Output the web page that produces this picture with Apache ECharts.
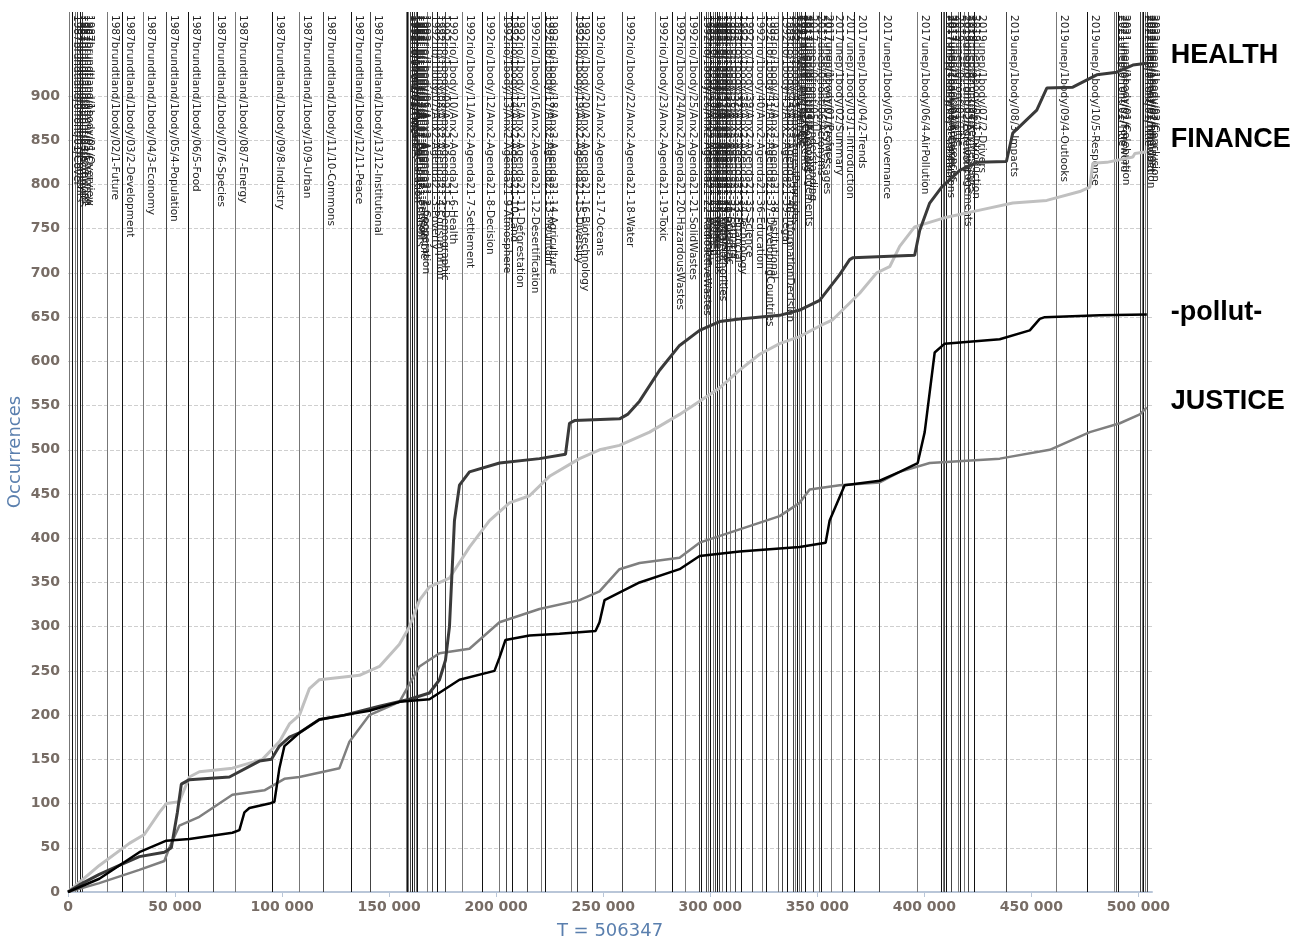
<!DOCTYPE html>
<html>
<head>
<meta charset="utf-8">
<script src="https://cdn.jsdelivr.net/npm/echarts@6/dist/echarts.min.js"></script>
<style>html,body{margin:0;padding:0;background:#fff;}#c{width:1306px;height:939px;}</style>
</head>
<body>
<div id="c"></div>
<script>
// ---- DATA ----
const totalT = 506347;
const yTop = 995;

const docLabels = [
 "1987brundtland/0front/01/Cover","1987brundtland/0front/02/Contents","1987brundtland/0front/03/Acronyms","1987brundtland/0front/04/Foreword","1987brundtland/0front/05/Chairman","1987brundtland/1body/01/Overview",
 "1987brundtland/1body/02/1-Future","1987brundtland/1body/03/2-Development","1987brundtland/1body/04/3-Economy","1987brundtland/1body/05/4-Population","1987brundtland/1body/06/5-Food","1987brundtland/1body/07/6-Species","1987brundtland/1body/08/7-Energy","1987brundtland/1body/09/8-Industry","1987brundtland/1body/10/9-Urban","1987brundtland/1body/11/10-Commons","1987brundtland/1body/12/11-Peace","1987brundtland/1body/13/12-Institutional",
 "1992rio/0front/01/Title","1992rio/0front/02/Contents","1992rio/1body/01/Report","1992rio/1body/02/Anx1-Declaration","1992rio/1body/03/Anx2-Agenda21-Contents","1992rio/1body/04/Anx2-Agenda21-Section","1992rio/1body/05/Anx2-Agenda21-1-Preamble","1992rio/1body/06/Anx2-Agenda21-2-Cooperation",
 "1992rio/1body/07/Anx2-Agenda21-3-Poverty","1992rio/1body/08/Anx2-Agenda21-4-Consumption","1992rio/1body/09/Anx2-Agenda21-5-Demographic","1992rio/1body/10/Anx2-Agenda21-6-Health",
 "1992rio/1body/11/Anx2-Agenda21-7-Settlement","1992rio/1body/12/Anx2-Agenda21-8-Decision","1992rio/1body/13/Anx2-Agenda21-9-Atmosphere","1992rio/1body/14/Anx2-Agenda21-10-Land","1992rio/1body/15/Anx2-Agenda21-11-Deforestation","1992rio/1body/16/Anx2-Agenda21-12-Desertification","1992rio/1body/17/Anx2-Agenda21-13-Mountain","1992rio/1body/18/Anx2-Agenda21-14-Agriculture",
 "1992rio/1body/19/Anx2-Agenda21-15-Diversity","1992rio/1body/20/Anx2-Agenda21-16-Biotechnology","1992rio/1body/21/Anx2-Agenda21-17-Oceans","1992rio/1body/22/Anx2-Agenda21-18-Water","1992rio/1body/23/Anx2-Agenda21-19-Toxic","1992rio/1body/24/Anx2-Agenda21-20-HazardousWastes","1992rio/1body/25/Anx2-Agenda21-21-SolidWastes",
 "1992rio/1body/26/Anx2-Agenda21-22-RadioactiveWastes","1992rio/1body/27/Anx2-Agenda21-23-Preamble","1992rio/1body/28/Anx2-Agenda21-24-Women","1992rio/1body/29/Anx2-Agenda21-25-Youth","1992rio/1body/30/Anx2-Agenda21-26-Indigenous","1992rio/1body/31/Anx2-Agenda21-27-NGO","1992rio/1body/32/Anx2-Agenda21-28-LocalAuthorities","1992rio/1body/33/Anx2-Agenda21-29-Workers","1992rio/1body/34/Anx2-Agenda21-30-Business","1992rio/1body/35/Anx2-Agenda21-31-Scientific","1992rio/1body/36/Anx2-Agenda21-32-Farmers","1992rio/1body/37/Anx2-Agenda21-33-Financial","1992rio/1body/38/Anx2-Agenda21-34-Technology",
 "1992rio/1body/39/Anx2-Agenda21-35-Science","1992rio/1body/40/Anx2-Agenda21-36-Education","1992rio/1body/41/Anx2-Agenda21-37-DevelopingCountries","1992rio/1body/42/Anx2-Agenda21-38-Institutional","1992rio/1body/43/Anx2-Agenda21-39-Legal","1992rio/1body/44/Anx2-Agenda21-40-InformationDecision","1992rio/1body/45/Anx3-ForestPrinciples","1992rio/2back/01/Annex",
 "2017unep/0front/01/Title","2017unep/0front/02/Contents","2017unep/0front/03/Foreword","2017unep/0front/04/Acknowledgements","2017unep/0front/05/Understanding","2017unep/0front/06/Acronyms","2017unep/0front/07/KeyMessages","2017unep/1body/01/Preface",
 "2017unep/1body/02/Summary","2017unep/1body/03/1-Introduction","2017unep/1body/04/2-Trends","2017unep/1body/05/3-Governance","2017unep/1body/06/4-AirPollution",
 "2017unep/1body/07/5-Solutions","2017unep/1body/08/6-Conclusions","2017unep/2back/01/Annexes","2017unep/2back/02/References","2019unep/0front/01/Title","2019unep/0front/02/Foreword","2019unep/0front/03/Acknowledgements","2019unep/0front/04/KeyMessages","2019unep/1body/06/1-Introduction","2019unep/1body/07/2-Drivers",
 "2019unep/1body/08/3-Impacts","2019unep/1body/09/4-Outlooks","2019unep/1body/10/5-Response",
 "2021unep/0front/01/Title","2021unep/0front/02/Foreword","2021unep/1body/01/Celebration",
 "2022unep/0front/01/Title","2022unep/0front/02/Foreword","2022unep/1body/01/Introduction","2022unep/1body/02/Findings","2022unep/1body/03/Conclusion"
];
const docStarts = [
 607,2150,3411,4486,5608,6823,
 18365,25140,35327,45935,56028,67710,78037,95561,108084,119440,132384,141122,
 157805,158413,159020,159955,160889,161824,162618,163366,
 167899,170235,172338,176310,
 184020,193693,201216,204534,207571,214581,221169,223038,
 235188,237992,245001,259113,274440,282337,288459,
 294674,295842,298272,299206,300141,301356,302477,303412,304346,305748,307524,309206,311682,
 314626,319719,324205,326308,331729,333738,335888,338738,
 339626,340561,341495,342663,344252,348084,350887,352009,
 356401,361775,367102,378925,396822,
 407990,408785,409486,410420,412663,415981,416822,418832,420514,423178,
 438318,461683,476309,
 488693,489627,490609,
 501076,501777,502478,503179,504114
];

const healthData = [[0,0],[5280,8],[14630,20],[23970,30],[33320,40],[45000,45],[48270,50],[51080,90],[52940,122],[56680,127],[75390,130],[89410,148],[95020,150],[98750,165],[103430,175],[108100,180],[117440,195],[129120,200],[145480,210],[159500,218],[168840,225],[173520,240],[176320,262],[178190,300],[180520,420],[182860,460],[187530,475],[201550,485],[220240,490],[232390,495],[234260,530],[236600,533],[257630,535],[261370,540],[266980,555],[276330,590],[285670,618],[295020,635],[304370,645],[313710,648],[332410,652],[341750,658],[351100,669],[360450,698],[365120,715],[366520,717],[395490,720],[397830,748],[402500,779],[408110,797],[416520,816],[424470,825],[438350,826],[441300,858],[452520,884],[457200,909],[469350,910],[480570,924],[489920,927],[497400,935],[503940,937]];

const financeData = [[0,0],[14630,30],[28650,55],[35650,65],[42670,90],[45940,100],[52010,102],[56680,130],[61360,136],[76790,140],[90810,150],[98750,170],[103430,190],[108100,200],[112770,230],[117440,240],[136130,245],[145480,255],[154820,280],[159500,300],[164170,330],[168840,345],[178190,355],[187530,390],[196880,420],[206220,440],[215570,448],[224910,470],[238930,490],[248280,500],[257630,505],[271650,520],[285670,540],[295020,555],[304370,570],[313710,590],[323060,608],[332410,620],[341750,628],[351100,640],[357170,647],[369790,677],[377740,700],[383810,707],[388480,730],[395490,752],[410450,763],[425870,771],[441300,779],[457200,782],[472620,792],[477300,797],[478700,824],[485250,825],[497400,831],[498330,835],[503940,837]];

const pollutData = [[0,0],[14630,15],[33320,45],[45940,58],[56680,60],[76790,67],[80060,70],[82400,90],[84740,95],[94080,100],[96420,102],[98750,140],[101090,165],[108100,180],[117440,195],[129120,200],[140800,205],[154820,215],[168840,218],[182860,240],[199210,250],[201550,265],[204350,285],[215570,290],[229590,292],[246410,295],[248280,305],[250620,330],[266980,350],[285670,365],[295020,380],[313710,385],[341750,390],[353900,395],[355770,420],[362780,460],[379140,465],[388480,475],[396900,485],[400170,520],[404840,610],[409520,620],[435220,625],[449250,635],[453920,648],[456260,650],[481970,652],[503940,653]];

const justiceData = [[0,0],[14630,10],[33320,25],[45000,35],[47340,50],[52010,75],[61360,85],[76790,110],[91750,115],[101090,128],[108100,130],[126790,140],[131460,170],[140800,200],[154820,215],[164170,255],[173520,270],[187530,275],[201550,305],[220240,320],[238930,330],[248280,340],[257630,365],[266980,372],[285670,378],[295020,395],[313710,410],[332410,425],[341750,440],[346420,455],[360450,460],[379140,463],[388480,475],[402500,485],[435220,490],[458600,500],[477300,520],[491320,530],[500670,540],[503940,548]];

const seriesNames = ["HEALTH","FINANCE","-pollut-","JUSTICE"];

// ---- CHART ----
const chart = echarts.init(document.getElementById('c'), null, {renderer:'canvas'});
const fmtNum = v => String(v).replace(/\B(?=(\d{3})+(?!\d))/g, ' ');

const markData = docStarts.map((t, i) => [
  {name: docLabels[i], coord: [t, yTop], lineStyle: {color: i % 3 === 1 ? '#111' : (i % 2 ? '#444' : '#777')}},
  {coord: [t, 0]}
]);

const splitColors = [];
for (let v = 0; v <= 950; v += 50) splitColors.push(v <= 900 ? '#cfcfcf' : 'rgba(0,0,0,0)');
splitColors.push('rgba(0,0,0,0)');

const endLab = (dy) => ({
  show: true, formatter: '{a}', distance: 24, offset: [0, dy],
  fontSize: 27, fontWeight: 'bold', color: '#000', fontFamily: 'Liberation Sans, Arial, sans-serif'
});

const mkSeries = (name, data, color, width, dy, z) => ({
  name, type: 'line', data, showSymbol: false, symbol: 'none', z,
  lineStyle: {color, width}, itemStyle: {color},
  endLabel: endLab(dy), labelLayout: {hideOverlap: false}, silent: true
});

chart.setOption({
  animation: false,
  backgroundColor: '#fff',
  grid: {left: 68, right: 154, top: 12, bottom: 47, containLabel: false, outerBoundsMode: 'none'},
  xAxis: {
    type: 'value', min: 0, max: totalT, interval: 50000,
    name: 'T = ' + totalT, nameLocation: 'middle', nameGap: 30,
    nameTextStyle: {color: '#5a7fae', fontSize: 18, fontFamily: 'DejaVu Sans'},
    axisLine: {show: true, lineStyle: {color: '#b9c6d8', width: 2}},
    axisTick: {show: true, lineStyle: {color: '#b9c6d8'}},
    axisLabel: {color: '#776c65', fontWeight: 'bold', fontSize: 14, fontFamily: 'DejaVu Sans', showMaxLabel: false,
      formatter: v => (v % 50000 === 0 ? fmtNum(v) : '')},
    splitLine: {show: false}
  },
  yAxis: {
    type: 'value', min: 0, max: yTop, interval: 50,
    name: 'Occurrences', nameLocation: 'middle', nameGap: 44, nameMoveOverlap: false,
    nameTextStyle: {color: '#5a7fae', fontSize: 18, fontFamily: 'DejaVu Sans'},
    axisLine: {show: false}, axisTick: {show: false},
    axisLabel: {color: '#776c65', fontWeight: 'bold', fontSize: 14, fontFamily: 'DejaVu Sans',
      formatter: v => (v <= 900 && v % 50 === 0 ? String(v) : '')},
    splitLine: {show: true, lineStyle: {type: 'dashed', color: splitColors}}
  },
  series: [
    {
      name: 'docs', type: 'line', data: [], silent: true, z: 1,
      markLine: {
        silent: true, symbol: ['none','none'], z: 1, animation: false,
        lineStyle: {type: 'solid', width: 1},
        label: {show: true, position: 'insideStartTop', formatter: '{b}', color: '#222', fontSize: 10.5, fontFamily: 'DejaVu Sans', distance: [3, 2]},
        emphasis: {disabled: true},
        data: markData
      }
    },
    mkSeries(seriesNames[3], justiceData, '#7f7f7f', 2.5, -6, 3),
    mkSeries(seriesNames[1], financeData, '#c0c0c0', 3, -12, 3),
    mkSeries(seriesNames[0], healthData, '#3a3a3a', 3, -8, 4),
    mkSeries(seriesNames[2], pollutData, '#000000', 2.5, -2, 5)
  ]
});
</script>
</body>
</html>
